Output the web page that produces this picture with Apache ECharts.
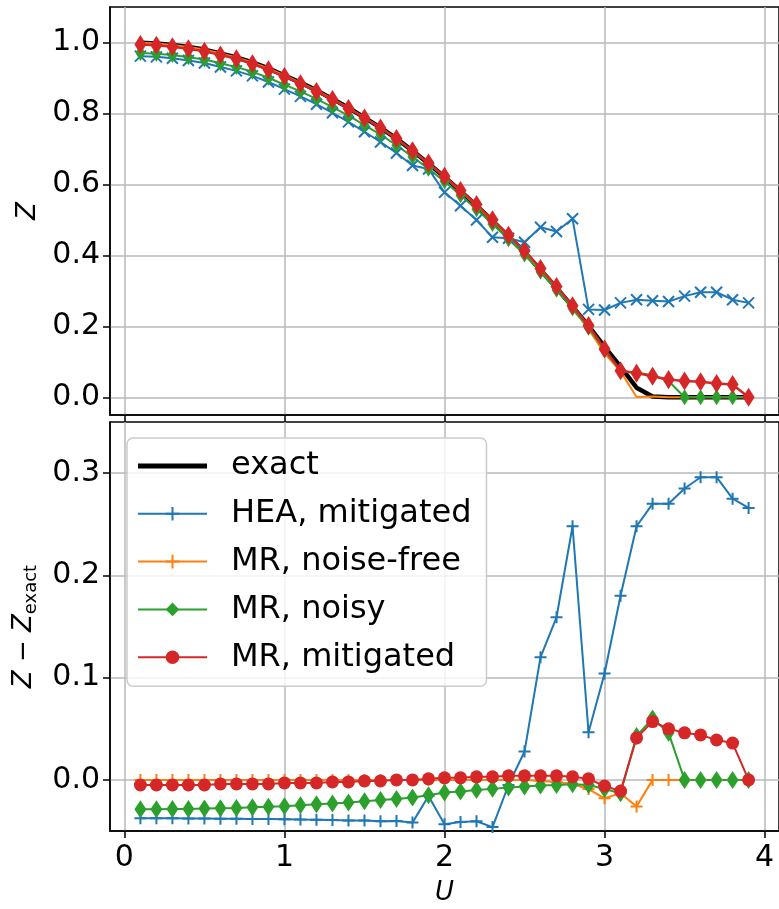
<!DOCTYPE html>
<html>
<head>
<meta charset="utf-8">
<script src="https://cdn.jsdelivr.net/npm/echarts@6/dist/echarts.min.js"></script>
<style>
  html, body { margin: 0; padding: 0; background: #fff; }
  #chart { width: 779px; height: 909px; }
</style>
</head>
<body>
<div id="chart"></div>
<script>
// U values (x axis)
var U = [0.1, 0.2, 0.3, 0.4, 0.5, 0.6, 0.7, 0.8, 0.9, 1.0,
         1.1, 1.2, 1.3, 1.4, 1.5, 1.6, 1.7, 1.8, 1.9, 2.0,
         2.1, 2.2, 2.3, 2.4, 2.5, 2.6, 2.7, 2.8, 2.9, 3.0,
         3.1, 3.2, 3.3, 3.4, 3.5, 3.6, 3.7, 3.8, 3.9];

// exact Z
var exact = [0.999, 0.997, 0.993, 0.987, 0.980, 0.969, 0.958, 0.944, 0.927, 0.907,
             0.887, 0.865, 0.841, 0.816, 0.788, 0.760, 0.729, 0.695, 0.659, 0.621,
             0.581, 0.540, 0.497, 0.453, 0.409, 0.359, 0.308, 0.255, 0.201, 0.142,
             0.086, 0.027, 0.002, 0, 0, 0, 0, 0, 0];

// Z - Z_exact
var heaMitigated = [-0.0375, -0.0375, -0.0376, -0.0377, -0.0378, -0.0380, -0.0380, -0.0382, -0.0383, -0.0385,
                    -0.0388, -0.0390, -0.0392, -0.0397, -0.0397, -0.0405, -0.0403, -0.0418, -0.0157, -0.0434,
                    -0.0412, -0.0405, -0.0462, -0.005, 0.0277, 0.120, 0.159, 0.248, 0.0466, 0.104,
                    0.180, 0.248, 0.270, 0.270, 0.285, 0.296, 0.296, 0.275, 0.266];

var mrNoiseFree = [0, 0, 0, 0, 0, 0, 0, 0, 0, 0,
                   0, 0, 0, 0, 0, 0, 0, 0, 0, 0,
                   0, 0, 0, 0, 0, -0.001, -0.002, -0.004, -0.009, -0.018,
                   -0.013, -0.026, 0, 0, 0, 0, 0, 0, 0];

var mrNoisy = [-0.0287, -0.0287, -0.0284, -0.0284, -0.0280, -0.0277, -0.0274, -0.0267, -0.0264, -0.0258,
               -0.0248, -0.0238, -0.0232, -0.0222, -0.0209, -0.0196, -0.0186, -0.0173, -0.0150, -0.0124,
               -0.0114, -0.0098, -0.0088, -0.0075, -0.0065, -0.0055, -0.0049, -0.0042, -0.0050, -0.0090,
               -0.013, 0.043, 0.060, 0.046, 0, 0, 0, 0, 0];

var mrMitigated = [-0.005, -0.005, -0.005, -0.005, -0.005, -0.004, -0.004, -0.004, -0.004, -0.003,
                   -0.003, -0.003, -0.002, -0.002, -0.001, -0.001, 0, 0, 0.001, 0.002,
                   0.002, 0.003, 0.003, 0.004, 0.004, 0.004, 0.004, 0.003, 0.001, -0.006,
                   -0.011, 0.041, 0.057, 0.050, 0.046, 0.044, 0.039, 0.036, 0];

var xTicks = [0, 1, 2, 3, 4];
var zTicks = [0, 0.2, 0.4, 0.6, 0.8, 1.0];
var dTicks = [0, 0.1, 0.2, 0.3];

var FONT = 'DejaVu Sans';
var BLUE = '#1f77b4', ORANGE = '#ff7f0e', GREEN = '#2ca02c', RED = '#d62728';
var PLUS = 'path://M5,0L5,10M0,5L10,5';
var CROSS = 'path://M0,0L10,10M10,0L0,10';

function pairs(vals) {
    return U.map(function (u, i) { return [u, vals[i]]; });
}
// Z of a method = exact + (Z - Z_exact)
function zOf(diff) {
    return U.map(function (u, i) { return [u, +(exact[i] + diff[i]).toFixed(4)]; });
}

function line(name, idx, data, color, symbol, size, width, stroked) {
    return {
        name: name, type: 'line', xAxisIndex: idx, yAxisIndex: idx,
        data: data, color: color,
        symbol: symbol, symbolSize: size, showSymbol: symbol !== 'none',
        lineStyle: { color: color, width: width },
        itemStyle: stroked ? { color: color, borderColor: color, borderWidth: 2 }
                           : { color: color, borderWidth: 0 },
        emphasis: { disabled: true },
        animation: false
    };
}

function xAxis(idx, showLabels) {
    return {
        gridIndex: idx, type: 'value', min: -0.09, max: 4.09,
        axisLine: { show: true, onZero: false, lineStyle: { color: '#000', width: 1.5 } },
        axisTick: { show: true, customValues: xTicks, length: 7, lineStyle: { color: '#000', width: 1.5 } },
        axisLabel: { show: showLabels, customValues: xTicks, fontSize: 30, fontFamily: FONT, color: '#000', margin: 12 },
        splitLine: { show: true, lineStyle: { color: '#b9b9b9', width: 1.5 } },
        name: showLabels ? 'U' : '', nameLocation: 'middle', nameGap: 49,
        nameTextStyle: { fontSize: 26, fontStyle: 'italic', fontFamily: FONT, color: '#000' }
    };
}

function yAxis(idx, min, max, ticks, name, nameGap, rich) {
    return {
        gridIndex: idx, type: 'value', min: min, max: max,
        axisLine: { show: true, onZero: false, lineStyle: { color: '#000', width: 1.5 } },
        axisTick: { show: true, customValues: ticks, length: 7, lineStyle: { color: '#000', width: 1.5 } },
        axisLabel: {
            customValues: ticks, fontSize: 30, fontFamily: FONT, color: '#000', margin: 10,
            formatter: function (v) { return v.toFixed(1); }
        },
        splitLine: { show: true, lineStyle: { color: '#b9b9b9', width: 1.5 } },
        name: name, nameLocation: 'middle', nameGap: nameGap,
        nameTextStyle: rich ? { fontFamily: FONT, color: '#000', rich: rich }
                            : { fontSize: 26, fontStyle: 'italic', fontFamily: FONT, color: '#000' }
    };
}

var chart = echarts.init(document.getElementById('chart'), null, { renderer: 'canvas' });

chart.setOption({
    backgroundColor: '#fff',
    animation: false,
    grid: [
        { left: 110, top: 7, width: 671, height: 408, show: true, borderColor: '#000', borderWidth: 1.5 },
        { left: 110, top: 422, width: 671, height: 409, show: true, borderColor: '#000', borderWidth: 1.5 }
    ],
    xAxis: [xAxis(0, false), xAxis(1, true)],
    yAxis: [
        yAxis(0, -0.05, 1.1, zTicks, 'Z', 66),
        yAxis(1, -0.05, 0.35, dTicks, '{z|Z − Z}{s|exact}', 70, {
            z: { fontSize: 26, fontStyle: 'italic', fontFamily: FONT, color: '#000', lineHeight: 32, verticalAlign: 'middle' },
            s: { fontSize: 18, fontFamily: FONT, color: '#000', lineHeight: 32, verticalAlign: 'bottom' }
        })
    ],
    legend: {
        orient: 'vertical', left: 127, top: 438,
        padding: [10, 15, 11, 10],
        itemWidth: 69, itemHeight: 17, itemGap: 11.8,
        backgroundColor: 'rgba(255,255,255,0.8)',
        borderColor: '#cccccc', borderWidth: 1.5, borderRadius: 6,
        textStyle: { fontSize: 32, fontFamily: FONT, color: '#000', lineHeight: 36, padding: [0, 0, 0, 19] },
        data: [
            { name: 'exact', icon: 'path://M0,0H70V5H0Z' },
            'HEA, mitigated', 'MR, noise-free', 'MR, noisy', 'MR, mitigated'
        ]
    },
    series: [
        // lower panel: Z - Z_exact (first, so the legend takes these markers)
        line('HEA, mitigated', 1, pairs(heaMitigated), BLUE, PLUS, 12, 2, true),
        line('MR, noise-free', 1, pairs(mrNoiseFree), ORANGE, PLUS, 12, 2, true),
        line('MR, noisy', 1, pairs(mrNoisy), GREEN, 'diamond', [12, 18], 2, false),
        line('MR, mitigated', 1, pairs(mrMitigated), RED, 'circle', 13, 2, false),
        // upper panel: Z
        line('exact', 0, pairs(exact), '#000', 'none', 0, 4.5, false),
        line('HEA, mitigated', 0, zOf(heaMitigated), BLUE, CROSS, 11, 2, true),
        line('MR, noise-free', 0, zOf(mrNoiseFree), ORANGE, 'none', 0, 2, false),
        line('MR, noisy', 0, zOf(mrNoisy), GREEN, 'diamond', [10, 16], 2, false),
        line('MR, mitigated', 0, zOf(mrMitigated), RED, 'diamond', [12, 19], 2.5, false)
    ]
});
</script>
</body>
</html>
